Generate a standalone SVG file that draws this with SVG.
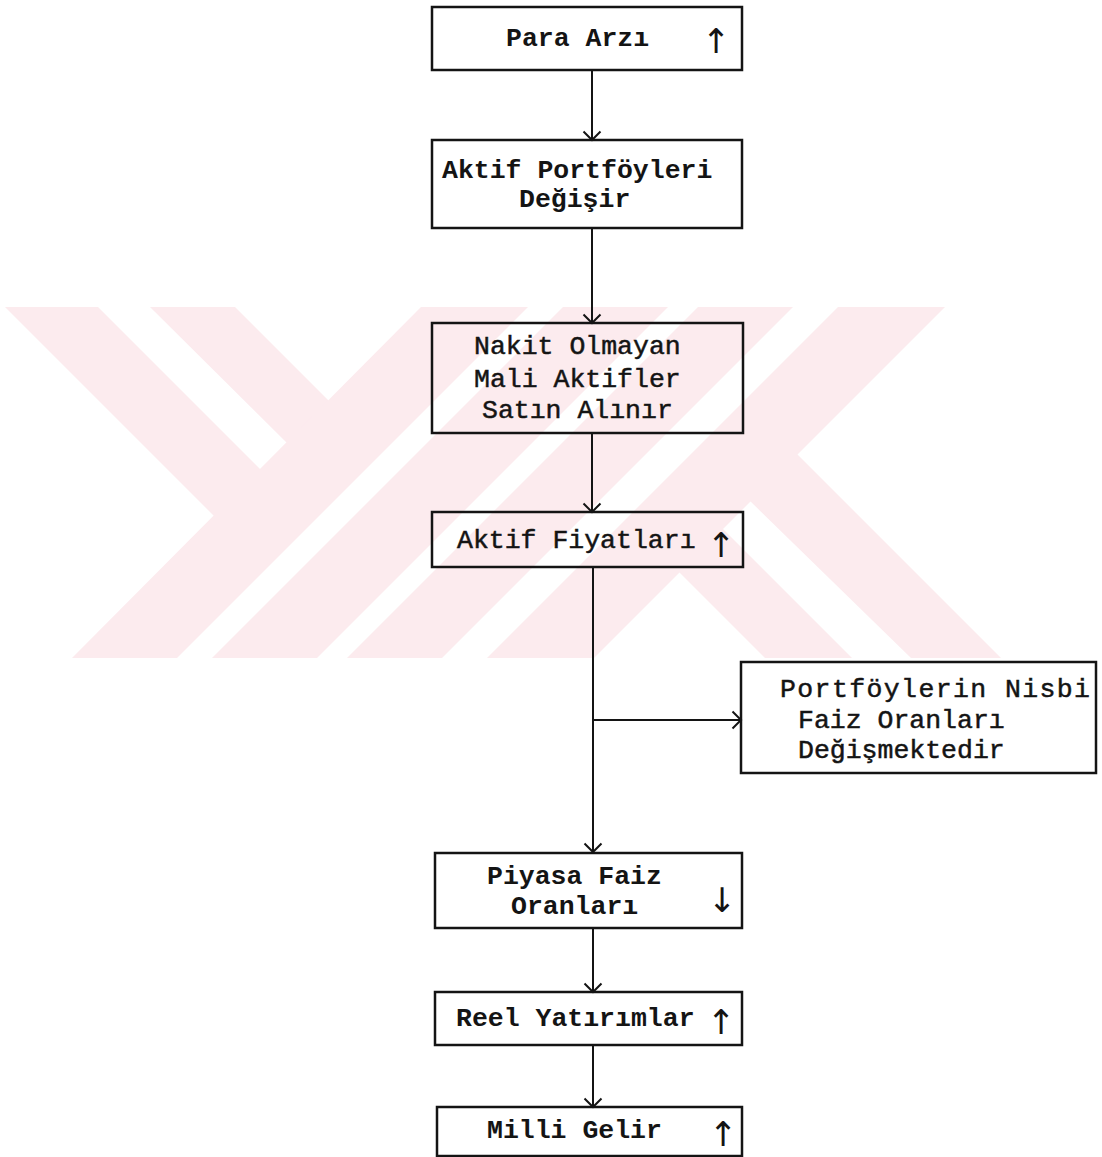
<svg xmlns="http://www.w3.org/2000/svg" width="1102" height="1157" viewBox="0 0 1102 1157">
<style>
.box{fill:none;stroke:#141414;stroke-width:2.5}
.con{fill:none;stroke:#141414;stroke-width:2}
.t{font-family:"Liberation Mono","DejaVu Sans Mono",monospace;font-size:26.5px;fill:#141414}
.b{font-weight:bold}
.r{stroke:#141414;stroke-width:0.5}
.ar{font-family:"DejaVu Sans","Liberation Sans",sans-serif;font-size:34px;fill:#141414;text-anchor:middle}
.wm{fill:#fcebee}
</style>
<defs>
<marker id="arr" viewBox="-11 -11 13 22" refX="0" refY="0" markerWidth="13" markerHeight="22" markerUnits="userSpaceOnUse" orient="auto">
<path d="M-8.5,-8.5 L0,0 L-8.5,8.5" fill="none" stroke="#141414" stroke-width="2"/>
</marker>
<clipPath id="wmclip"><rect x="0" y="307" width="1102" height="351"/></clipPath>
</defs>
<rect width="1102" height="1157" fill="#ffffff"/>
<g id="watermark" clip-path="url(#wmclip)">
<polygon class="wm" points="5,307 98,307 263,472 216.5,518.5"/>
<polygon class="wm" points="150,307 235,307 331,403 289,445"/>
<polygon class="wm" points="421,307 528,307 177,658 72,658"/>
<polygon class="wm" points="563,307 668,307 317,658 212,658"/>
<polygon class="wm" points="698,307 793,307 442,658 347,658"/>
<polygon class="wm" points="838,307 945,307 594,658 487,658"/>
<polygon class="wm" points="678.5,571.5 722,528 856,662 769,662"/>
<polygon class="wm" points="749.5,500.5 796.5,453.5 1001,658 911,658"/>
</g>
<g id="connectors">
<line class="con" x1="592" y1="70" x2="592" y2="140" marker-end="url(#arr)"/>
<line class="con" x1="592" y1="228" x2="592" y2="323" marker-end="url(#arr)"/>
<line class="con" x1="592" y1="433" x2="592" y2="512" marker-end="url(#arr)"/>
<line class="con" x1="593" y1="567" x2="593" y2="852" marker-end="url(#arr)"/>
<line class="con" x1="593" y1="720" x2="741" y2="720" marker-end="url(#arr)"/>
<line class="con" x1="593" y1="928" x2="593" y2="992" marker-end="url(#arr)"/>
<line class="con" x1="593" y1="1045" x2="593" y2="1107" marker-end="url(#arr)"/>
</g>
<g id="n1">
<rect class="box" x="432" y="7" width="310" height="63"/>
<text class="t b" x="506" y="46">Para Arzı</text>
<text class="ar" x="716" y="53">↑</text>
</g>
<g id="n2">
<rect class="box" x="432" y="140" width="310" height="88"/>
<text class="t b" x="442" y="178">Aktif Portföyleri</text>
<text class="t b" x="519" y="207">Değişir</text>
</g>
<g id="n3">
<rect class="box" x="432" y="323" width="311" height="110"/>
<text class="t r" x="474" y="354">Nakit Olmayan</text>
<text class="t r" x="474" y="387">Mali Aktifler</text>
<text class="t r" x="482" y="418">Satın Alınır</text>
</g>
<g id="n4">
<rect class="box" x="432" y="512" width="311" height="55"/>
<text class="t r" x="457" y="548">Aktif Fiyatları</text>
<text class="ar" x="721" y="557">↑</text>
</g>
<g id="n5">
<rect class="box" x="741" y="662" width="355" height="111"/>
<text class="t r" x="780" y="697" textLength="310" lengthAdjust="spacing">Portföylerin Nisbi</text>
<text class="t r" x="798" y="728">Faiz Oranları</text>
<text class="t r" x="798" y="758">Değişmektedir</text>
</g>
<g id="n6">
<rect class="box" x="435" y="853" width="307" height="75"/>
<text class="t b" x="487" y="884">Piyasa Faiz</text>
<text class="t b" x="511" y="914">Oranları</text>
<text class="ar" x="722" y="912">↓</text>
</g>
<g id="n7">
<rect class="box" x="435" y="992" width="307" height="53"/>
<text class="t b" x="456" y="1026">Reel Yatırımlar</text>
<text class="ar" x="721" y="1034">↑</text>
</g>
<g id="n8">
<rect class="box" x="437" y="1107" width="305" height="49"/>
<text class="t b" x="487" y="1138">Milli Gelir</text>
<text class="ar" x="723" y="1146">↑</text>
</g>
</svg>
